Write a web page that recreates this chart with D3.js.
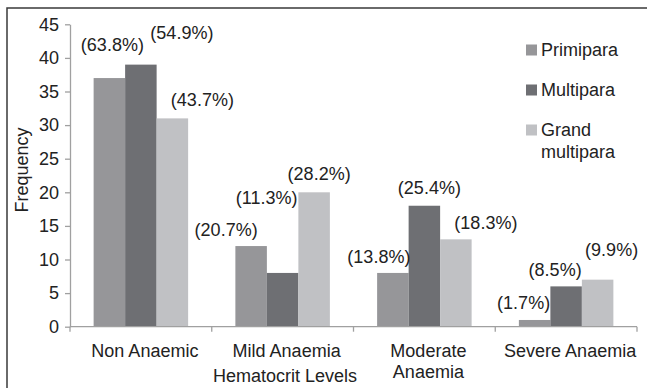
<!DOCTYPE html>
<html>
<head>
<meta charset="utf-8">
<script src="https://cdn.jsdelivr.net/npm/d3@7/dist/d3.min.js"></script>
<style>
  html, body { margin: 0; padding: 0; background: #fff; }
  svg { display: block; }
  text { font-family: "Liberation Sans", Arial, sans-serif; fill: #222; }
</style>
</head>
<body>
<svg id="chart" width="647" height="388"></svg>
<script>
// Hematocrit level categories on the x axis
const categories = [["Non Anaemic"], ["Mild Anaemia"], ["Moderate", "Anaemia"], ["Severe Anaemia"]];
const categoryKeys = ["Non Anaemic", "Mild Anaemia", "Moderate Anaemia", "Severe Anaemia"];

// Parity groups
const seriesNames = ["Primipara", "Multipara", "Grand multipara"];

// Frequency per category, one array per parity group
const primipara = [37, 12, 8, 1];
const multipara = [39, 8, 18, 6];
const grandMultipara = [31, 20, 13, 7];

const yTicks = [0, 5, 10, 15, 20, 25, 30, 35, 40, 45];

const seriesValues = [primipara, multipara, grandMultipara];
const colors = ["#969699", "#6e6f73", "#c0c1c4"];

// Hand placement of the percentage labels, [dx, dy] from each bar's top centre
const labelNudge = [
  [[3, -33], [-25, -16], [-14, -16], [-11, -17]],
  [[41, -32], [-16, -75], [5, -18], [-11, -17]],
  [[30, -19], [5, -19], [30, -17], [14, -30]]
];

const svg = d3.select("#chart");
const FS = 18;

// outer frame
svg.append("rect")
  .attr("x", 7).attr("y", 8).attr("width", 660).attr("height", 400)
  .attr("fill", "none").attr("stroke", "#3a3a3a").attr("stroke-width", 1.5);

const plot = { left: 70, right: 637, top: 24.3, bottom: 326.7 };

const x0 = d3.scaleBand().domain(categoryKeys).range([plot.left, plot.right]).paddingInner(0).paddingOuter(0);
const x1 = d3.scaleBand().domain(seriesNames).range([0, x0.bandwidth()]).paddingInner(0).paddingOuter(0.75);
const y = d3.scaleLinear().domain([0, 45]).range([plot.bottom, plot.top]);

// y axis
const yAxis = svg.append("g")
  .attr("transform", `translate(${plot.left},0)`)
  .call(d3.axisLeft(y).tickValues(yTicks).tickSize(5).tickPadding(6).tickSizeOuter(0));
yAxis.select(".domain").attr("stroke", "#a0a0a0").attr("stroke-width", 1.3);
yAxis.selectAll(".tick line").attr("stroke", "#a0a0a0").attr("stroke-width", 1.3);
yAxis.selectAll(".tick text").attr("font-size", FS).attr("font-family", "Liberation Sans, Arial, sans-serif").attr("fill", "#222");

// bars
const groups = svg.append("g").selectAll("g")
  .data(seriesNames)
  .join("g")
  .attr("fill", (d, i) => colors[i]);

groups.selectAll("rect")
  .data((s, si) => categoryKeys.map((c, ci) => ({ s, si, c, ci, v: seriesValues[si][ci] })))
  .join("rect")
  .attr("x", d => x0(d.c) + x1(d.s))
  .attr("y", d => y(d.v))
  .attr("width", x1.bandwidth())
  .attr("height", d => y(0) - y(d.v));

// x axis line and category boundary ticks
svg.append("line")
  .attr("x1", plot.left).attr("x2", plot.right)
  .attr("y1", y(0)).attr("y2", y(0))
  .attr("stroke", "#a0a0a0").attr("stroke-width", 1.3);
const boundaries = categoryKeys.map(c => x0(c)).concat([x0(categoryKeys[categoryKeys.length - 1]) + x0.bandwidth()]);
svg.append("g").selectAll("line")
  .data(boundaries)
  .join("line")
  .attr("x1", d => d).attr("x2", d => d)
  .attr("y1", y(0)).attr("y2", y(0) + 5)
  .attr("stroke", "#a0a0a0").attr("stroke-width", 1.3);

// percentage labels: share of each parity group's total
const totals = seriesValues.map(arr => d3.sum(arr));
const labelData = [];
seriesValues.forEach((arr, si) => arr.forEach((v, ci) => labelData.push({ si, ci, v })));
svg.append("g").selectAll("text")
  .data(labelData)
  .join("text")
  .attr("x", d => x0(categoryKeys[d.ci]) + x1(seriesNames[d.si]) + x1.bandwidth() / 2 + labelNudge[d.si][d.ci][0])
  .attr("y", d => y(d.v) + labelNudge[d.si][d.ci][1])
  .attr("dy", "0.35em")
  .attr("text-anchor", "middle")
  .attr("font-size", FS)
  .text(d => `(${(d.v / totals[d.si] * 100).toFixed(1)}%)`);

// category labels
const catText = svg.append("g").selectAll("text")
  .data(categories)
  .join("text")
  .attr("text-anchor", "middle")
  .attr("font-size", FS)
  .attr("transform", (d, i) => `translate(${x0(categoryKeys[i]) + x0.bandwidth() / 2 + 4},356.5)`);
catText.selectAll("tspan")
  .data(d => d)
  .join("tspan")
  .attr("x", 0)
  .attr("y", (d, i) => i * 21)
  .text(d => d);

// axis titles
svg.append("text")
  .attr("x", 285).attr("y", 382)
  .attr("text-anchor", "middle")
  .attr("font-size", FS)
  .text("Hematocrit Levels");

svg.append("text")
  .attr("transform", "translate(27.5,170) rotate(-90)")
  .attr("text-anchor", "middle")
  .attr("font-size", FS)
  .text("Frequency");

// legend
const legendRows = [["Primipara"], ["Multipara"], ["Grand", "multipara"]];
const legend = svg.append("g").selectAll("g")
  .data(legendRows)
  .join("g")
  .attr("transform", (d, i) => `translate(526,${50 + i * 40})`);
legend.append("rect")
  .attr("x", 0).attr("y", -5.5).attr("width", 11).attr("height", 11)
  .attr("fill", (d, i) => colors[i]);
const legText = legend.append("text")
  .attr("font-size", FS);
legText.selectAll("tspan")
  .data(d => d)
  .join("tspan")
  .attr("x", 15)
  .attr("y", (d, i) => 6.3 + i * 22)
  .text(d => d);
</script>
</body>
</html>
